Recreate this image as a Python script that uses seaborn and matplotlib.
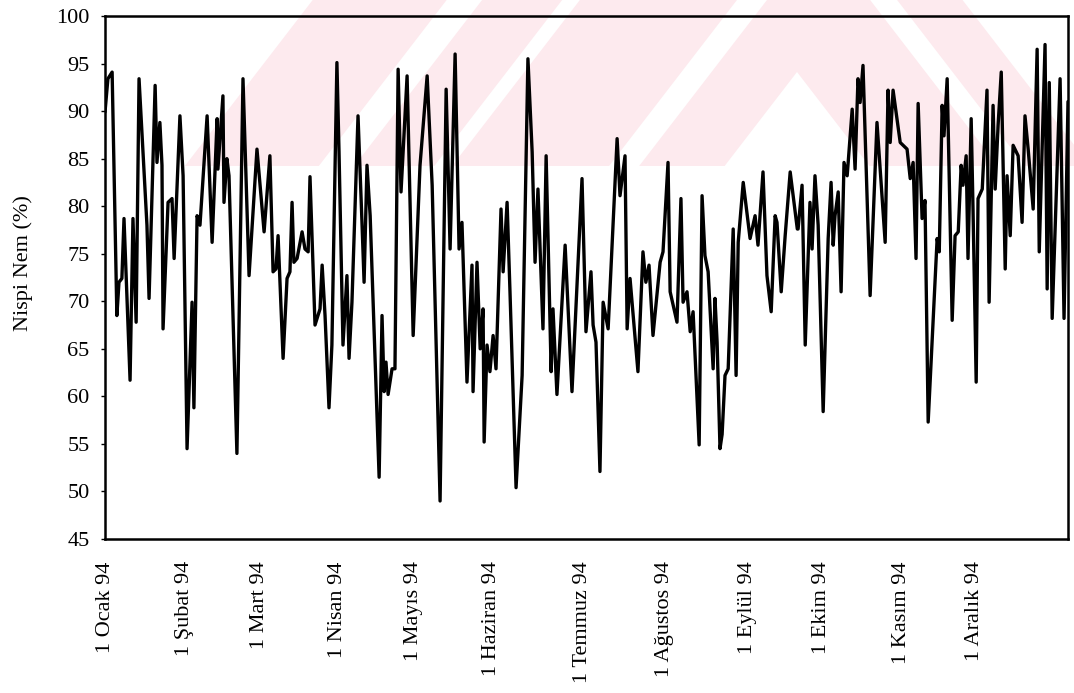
import matplotlib
matplotlib.use("Agg")
import matplotlib.pyplot as plt
import seaborn as sns
from matplotlib.patches import Polygon

# ---- data (day of 1994, relative humidity %) ----
day = [0.0, 1.1, 2.7, 4.5, 5.3, 6.4, 7.2, 9.5, 10.6, 11.8, 12.9, 15.9, 16.7, 19.0, 19.7,
       20.8, 21.6, 22.0, 23.9, 25.4, 26.2, 28.4, 29.6, 31.1, 33.0, 33.7, 34.9, 36.0, 38.7,
       40.6, 42.5, 42.8, 44.7, 45.1, 46.2, 47.0, 50.0, 52.3, 54.6, 57.6, 60.3, 62.5, 63.7,
       64.8, 65.6, 67.5, 69.0, 70.1, 70.9, 71.6, 72.8, 74.7, 75.8, 77.0, 77.7, 79.6, 81.5,
       82.3, 83.4, 84.9, 86.0, 87.9, 88.7, 90.2, 91.7, 92.5, 93.6, 95.9, 97.4, 98.2, 99.3,
       100.5, 103.9, 105.0, 105.8, 106.5, 107.3, 108.8, 109.9, 111.1, 112.2, 114.5, 116.8,
       119.4, 122.1, 124.0, 127.0, 129.3, 130.8, 132.7, 134.2, 135.3, 137.2, 139.1, 139.5,
       141.0, 142.2, 143.3, 143.7, 144.8, 145.9, 147.1, 148.2, 150.1, 150.9, 152.4, 153.5,
       155.8, 158.1, 160.3, 161.9, 163.0, 164.1, 166.0, 167.2, 169.1, 169.8, 171.3, 174.4,
       177.0, 180.8, 182.3, 184.2, 185.0, 186.1, 187.6, 188.8, 190.7, 194.1, 195.2, 197.1,
       197.9, 199.0, 202.0, 203.9, 205.0, 206.2, 207.7, 210.4, 211.5, 213.4, 214.2, 216.8,
       218.3, 219.1, 220.6, 221.8, 222.9, 225.2, 226.3, 227.4, 228.6, 230.5, 231.2, 232.0,
       233.1, 233.9, 235.0, 236.2, 238.1, 239.2, 240.0, 241.9, 244.5, 246.4, 247.5, 249.4,
       250.9, 252.5, 254.0, 254.7, 256.3, 257.8, 259.7, 262.4, 262.7, 264.2, 265.4, 267.2,
       268.0, 269.1, 270.3, 272.2, 274.1, 275.2, 276.0, 276.7, 277.9, 279.0, 280.1, 281.3,
       283.2, 284.3, 285.4, 286.2, 287.3, 290.0, 292.6, 295.7, 296.8, 297.6, 298.7, 301.4,
       304.0, 305.2, 306.3, 307.4, 308.2, 309.7, 310.8, 312.0, 315.4, 316.2, 317.3, 318.0,
       319.2, 321.1, 322.2, 323.4, 324.5, 325.2, 326.4, 327.1, 328.3, 329.0, 330.2, 330.9,
       332.5, 334.3, 335.1, 336.6, 337.4, 338.5, 339.7, 341.2, 341.9, 343.1, 344.2, 346.1,
       347.6, 348.7, 349.9, 351.8, 353.3, 354.1, 356.3, 357.1, 357.9, 359.0, 362.0, 363.5,
       365.0]
nem = [89.9, 93.4, 94.1, 68.5, 72.0, 72.4, 78.7, 61.7, 78.7, 67.8, 93.4, 78.0, 70.3, 92.7, 84.6,
       88.8, 84.3, 67.1, 80.4, 80.8, 74.5, 89.5, 83.2, 54.5, 69.9, 58.8, 79.0, 78.0, 89.5,
       76.2, 89.2, 83.9, 91.6, 80.4, 85.0, 83.2, 54.0, 93.4, 72.7, 86.0, 77.3, 85.3, 73.1,
       73.4, 76.9, 64.0, 72.4, 73.1, 80.4, 74.1, 74.5, 77.3, 75.5, 75.2, 83.1, 67.5, 69.2,
       73.8, 68.5, 58.8, 65.4, 95.1, 85.7, 65.4, 72.7, 64.0, 69.9, 89.5, 78.3, 72.0, 84.3,
       79.0, 51.5, 68.5, 60.5, 63.6, 60.2, 62.9, 62.9, 94.4, 81.5, 93.7, 66.4,
       84.3, 93.7, 82.2, 49.0, 92.3, 75.5, 96.0, 75.5, 78.3, 61.5, 73.8, 60.5,
       74.1, 65.0, 69.2, 55.2, 65.4, 62.6, 66.4, 62.9, 79.7, 73.1, 80.4, 71.0,
       50.4, 62.2, 95.5, 85.7, 74.1, 81.8, 67.1, 85.3, 62.6, 69.2, 60.2, 75.9,
       60.5, 82.9, 66.8, 73.1, 67.5, 65.7, 52.1, 69.9, 67.1, 87.1, 81.1, 85.3,
       67.1, 72.4, 62.6, 75.2, 72.0, 73.8, 66.4, 74.1, 75.2, 84.6, 71.0, 67.8,
       80.8, 69.9, 71.0, 66.8, 68.9, 54.9, 81.1, 74.8, 73.1, 62.9, 70.3, 65.7,
       54.5, 56.0, 62.2, 62.9, 77.6, 62.2, 76.2, 82.5, 76.6, 79.0, 75.9, 83.6,
       72.7, 68.9, 79.0, 78.3, 71.0, 76.9, 83.6, 77.6, 77.6, 82.2, 65.4, 80.4,
       75.5, 83.2, 78.0, 58.4, 76.6, 82.5, 75.9, 79.0, 81.5, 71.0, 84.6, 83.2,
       90.2, 83.9, 93.4, 90.9, 94.8, 70.6, 88.8, 76.2, 92.2, 86.7, 92.2, 86.7,
       86.0, 82.9, 84.6, 74.5, 90.8, 78.7, 80.6, 57.3, 76.6, 75.2, 90.6, 87.4,
       93.4, 68.0, 76.9, 77.3, 84.3, 82.2, 85.3, 74.5, 89.2, 79.7, 61.5, 80.8,
       81.8, 92.2, 69.9, 90.6, 81.8, 88.5, 94.1, 73.4, 83.2, 76.9, 86.4, 85.3,
       78.3, 89.5, 86.0, 79.7, 96.5, 75.2, 97.0, 71.3, 93.0, 68.2, 93.4, 68.2,
       91.0]

tick_days = [0, 30, 58.5, 88, 117, 146.5, 181, 212, 243.5, 271.5, 302, 329.5]
tick_labels = ["1 Ocak 94", "1 Şubat 94", "1 Mart 94", "1 Nisan 94", "1 Mayıs 94",
               "1 Haziran 94", "1 Temmuz 94", "1 Ağustos 94", "1 Eylül 94", "1 Ekim 94",
               "1 Kasım 94", "1 Aralık 94"]
y_ticks = [45, 50, 55, 60, 65, 70, 75, 80, 85, 90, 95, 100]

# ---- style ----
sns.set_theme(style="white")
plt.rcParams["font.family"] = ["Liberation Serif", "DejaVu Serif"]

W, H = 1074, 693
fig = plt.figure(figsize=(W / 100, H / 100), dpi=100)
fig.patch.set_facecolor("white")
ax = fig.add_axes([105 / W, 1 - 539 / H, (1068 - 105) / W, (539 - 16) / H])
ax.patch.set_facecolor("none")

# faint pink scan watermark (decorative chevron arms behind the plot)
cx, base, k = 797, 166, 0.77
left_arms = [(72, -39), (-78, -282), (-305, -409), (-455, -629)]
right_arms = [(72, -95), (-130, -215)]


def arm(a_in, a_out, side):
    return [(cx + side * (base - a_out) * k, base), (cx, a_out),
            (cx, a_in), (cx + side * (base - a_in) * k, base)]


shapes = [arm(a, b, -1) for a, b in left_arms] + [arm(a, b, 1) for a, b in right_arms]
for pts in shapes:
    poly = Polygon([(x / W, 1 - y / H) for x, y in pts], closed=True,
                   transform=fig.transFigure, facecolor="#fdeaee", edgecolor="none",
                   zorder=-5)
    fig.add_artist(poly)

sns.lineplot(x=day, y=nem, ax=ax, color="black", linewidth=2.4,
             estimator=None, sort=False)

ax.set_xlim(0, 365)
ax.set_ylim(45, 100)
ax.set_yticks(y_ticks)
ax.set_xticks(tick_days)
ax.set_xticklabels(tick_labels, rotation=90, ha="center", va="top")
ax.tick_params(axis="both", labelsize=16, colors="black")
ax.tick_params(axis="x", length=0, pad=16)
ax.tick_params(axis="y", length=3, width=1, pad=8, direction="out", left=True)
ax.set_xlabel("")
ax.set_ylabel("Nispi Nem (%)", fontsize=16, color="black")
ax.yaxis.set_label_coords(-0.075, 0.528)
for s in ax.spines.values():
    s.set_visible(True)
    s.set_color("black")
    s.set_linewidth(1.8)

fig.savefig("out.png", dpi=100, facecolor="white")
